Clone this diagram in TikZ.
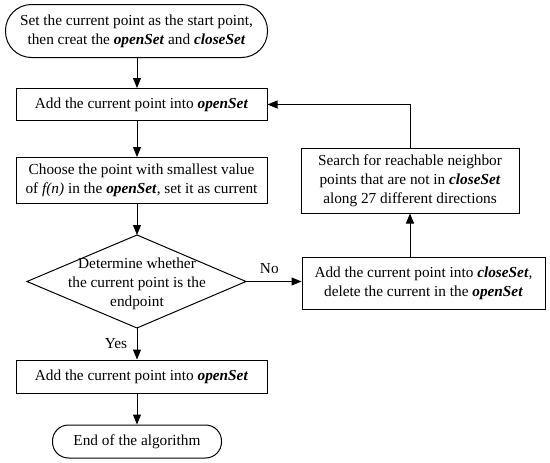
\documentclass[tikz,border=0pt]{standalone}
\usepackage{fontspec}
\setmainfont{Liberation Serif}
\usetikzlibrary{shapes.geometric,arrows.meta}
\begin{document}
\begin{tikzpicture}[x=1pt,y=-1pt,
  every node/.style={font=\fontsize{15.3}{19}\selectfont},
  proc/.style={draw,line width=1pt,rectangle,align=center,inner sep=0pt},
  arr/.style={line width=1pt,-{Triangle[length=10pt,width=8pt]}}]
\useasboundingbox (0,0) rectangle (550,463);
\node[draw,line width=1pt,rounded corners=26pt,minimum width=262pt,minimum height=53pt,align=center] (start) at (136.5,31) {Set the current point as the start point,\\then creat the \textbf{\textit{openSet}} and \textbf{\textit{closeSet}}};
\node[proc,minimum width=251pt,minimum height=32pt] (add1) at (141.5,104.5) {Add the current point into \textbf{\textit{openSet}}};
\node[proc,minimum width=251pt,minimum height=46pt] (choose) at (141.5,180.5) {Choose the point with smallest value\\of \textit{f(n)} in the \textbf{\textit{openSet}}, set it as current};
\coordinate (dt) at (137,235);
\coordinate (db) at (137,328);
\coordinate (dl) at (27,281.5);
\coordinate (dr) at (246,281.5);
\draw[line width=1pt] (dt) -- (dr) -- (db) -- (dl) -- cycle;
\node[align=center] (dtext) at (137,284) {Determine whether\\the current point is the\\endpoint};
\node[proc,minimum width=243pt,minimum height=52pt] (close) at (423.5,283) {Add the current point into \textbf{\textit{closeSet}},\\delete the current in the \textbf{\textit{openSet}}};
\node[proc,minimum width=218pt,minimum height=65pt] (search) at (410,180.5) {Search for reachable neighbor\\points that are not in \textbf{\textit{closeSet}}\\along 27 different directions};
\node[proc,minimum width=251pt,minimum height=33pt] (add2) at (141.5,376.5) {Add the current point into \textbf{\textit{openSet}}};
\node[draw,line width=1pt,rounded corners=16pt,minimum width=169pt,minimum height=33pt] (end) at (137,441.5) {End of the algorithm};
\draw[arr] (start.south -| dt) -- (add1.north -| dt);
\draw[arr] (add1.south -| dt) -- (choose.north -| dt);
\draw[arr] (choose.south -| dt) -- (dt);
\draw[arr] (db) -- (add2.north -| db) node[midway,left=6pt] {Yes};
\draw[arr] (add2.south -| db) -- (end.north -| db);
\draw[arr] (dr) -- (close.west |- dr) node[pos=0.42,above=4pt] {No};
\draw[arr] (close.north -| search) -- (search.south);
\draw[arr] (search.north) |- (add1.east);
\end{tikzpicture}
\end{document}
